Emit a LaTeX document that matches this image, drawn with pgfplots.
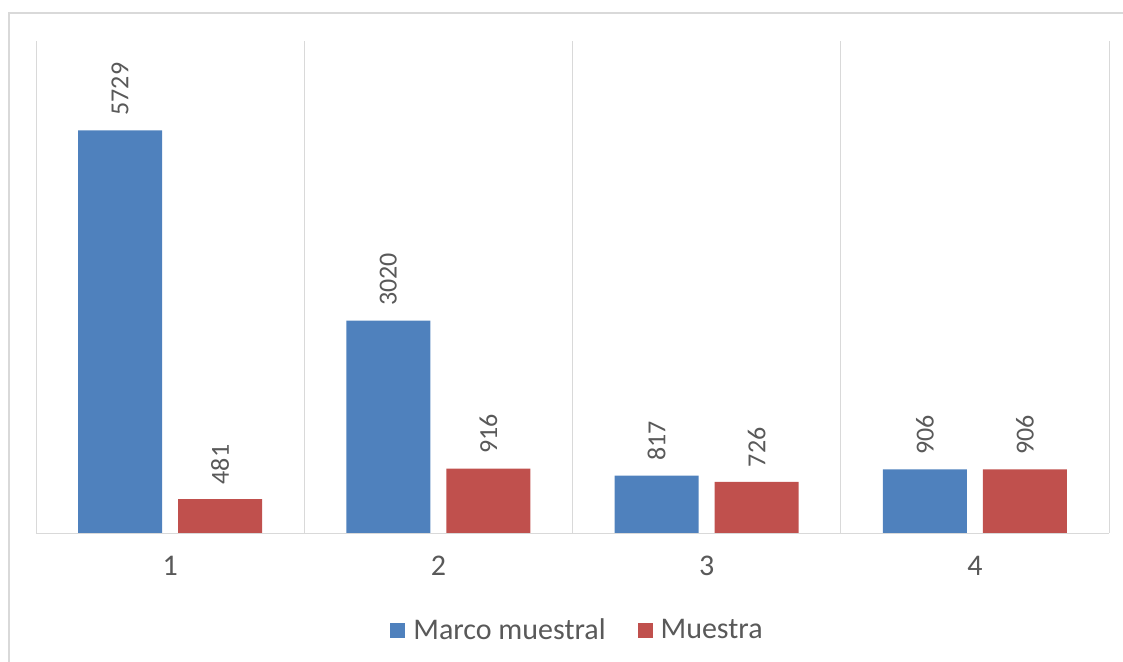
\documentclass[border=0pt]{standalone}
\usepackage{pgfplots}
\pgfplotsset{compat=1.18}
\usepackage{fontspec}
\setmainfont{Carlito}
\definecolor{barblue}{HTML}{4F81BD}
\definecolor{barred}{HTML}{C0504D}
\definecolor{gridgray}{HTML}{D9D9D9}
\definecolor{txtgray}{HTML}{595959}

\begin{document}
\begin{tikzpicture}
\useasboundingbox (0,0) rectangle (842.25pt,495.75pt);
% outer chart frame
\draw[gridgray, line width=1.5pt] (6.75pt,-2pt) -- (6.75pt,486pt) -- (845pt,486pt);
\begin{axis}[
    at={(27pt,96pt)}, anchor=south west,
    scale only axis, width=804.75pt, height=369pt,
    ybar=12pt, bar width=63pt,
    xmin=0.5, xmax=4.5, ymin=0, ymax=7000,
    axis line style={draw=none},
    ytick=\empty,
    xtick={1,2,3,4},
    major tick length=0pt,
    extra x ticks={0.5,1.5,2.5,3.5,4.5},
    extra x tick labels={,,,,},
    extra x tick style={grid=major},
    major grid style={gridgray, line width=0.75pt},
    /pgf/number format/assume math mode=true,
    /pgf/number format/1000 sep={},
    xticklabel style={font=\fontsize{22.5}{26}\selectfont, text=txtgray, yshift=-14pt},
    nodes near coords,
    every node near coord/.append style={rotate=90, anchor=west, inner xsep=11pt, inner ysep=0pt,
        font=\fontsize{19.5}{22}\selectfont, text=txtgray},
    legend columns=2,
    legend style={at={(0.5,0)}, anchor=center, yshift=-73pt, xshift=4pt, draw=none,
        font=\fontsize{22.5}{26}\selectfont, text=txtgray,
        /tikz/every odd column/.style={column sep=4pt},
        /tikz/every even column/.style={column sep=22pt}},
    legend image code/.code={\fill[#1,draw=none] (0pt,-5.6pt) rectangle (11.25pt,5.6pt);},
]
\addplot[fill=barblue, draw=none] coordinates {(1,5729) (2,3020) (3,817) (4,906)};
\addplot[fill=barred, draw=none] coordinates {(1,481) (2,916) (3,726) (4,906)};
\draw[gridgray, line width=0.75pt] (axis cs:0.5,0) -- (axis cs:4.5,0);
\legend{Marco muestral, Muestra}
\end{axis}
\end{tikzpicture}
\end{document}
